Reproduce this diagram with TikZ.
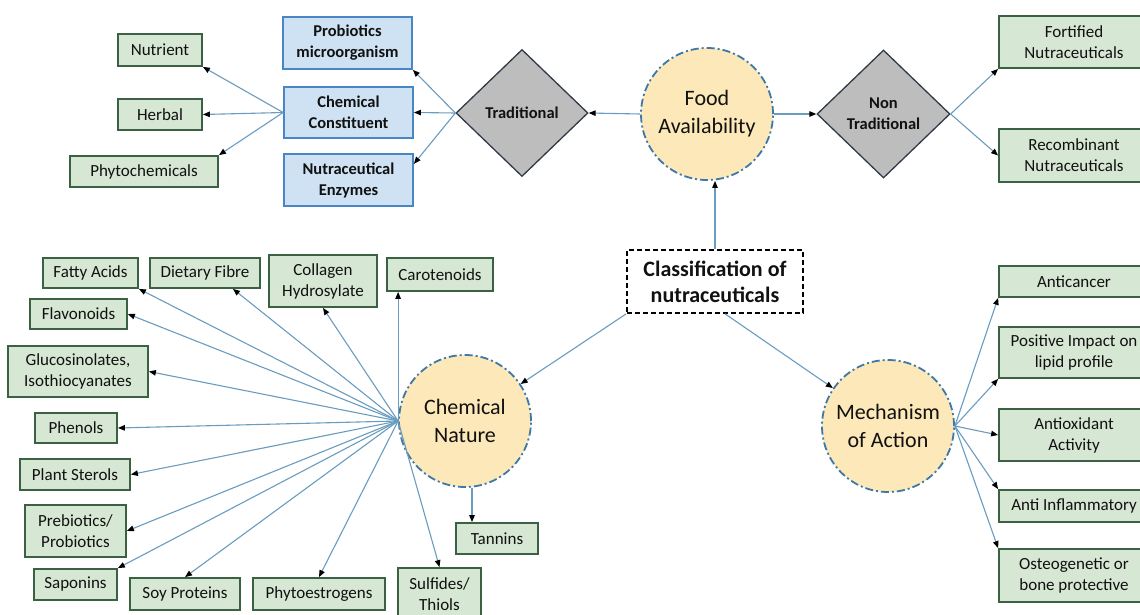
\documentclass[tikz,border=0pt]{standalone}
\usepackage{fontspec}
\setmainfont{Carlito}
\usetikzlibrary{arrows.meta,shapes.geometric,calc}
\definecolor{gfill}{HTML}{D6E7D3}
\definecolor{gdraw}{HTML}{3A6142}
\definecolor{bfill}{HTML}{CFE2F3}
\definecolor{bdraw}{HTML}{4A86C5}
\definecolor{cfill}{HTML}{FCE8B8}
\definecolor{cdraw}{HTML}{3D78A8}
\definecolor{dfill}{HTML}{BDBDBD}
\definecolor{ddraw}{HTML}{2F3B48}
\definecolor{lcol}{HTML}{6A9CC0}
\definecolor{tcol}{HTML}{111111}
\begin{document}
\begin{tikzpicture}[x=1pt,y=-1pt,
 sz/.style 2 args={minimum width=#1pt,minimum height=#2pt},
 gbox/.style={draw=gdraw,fill=gfill,line width=1.8pt,inner sep=0pt,align=center,font=\fontsize{17}{21}\selectfont,text=tcol},
 bbox/.style={draw=bdraw,fill=bfill,line width=1.8pt,inner sep=0pt,align=center,font=\bfseries\fontsize{16.5}{21}\selectfont,text=tcol},
 circ/.style={circle,draw=cdraw,fill=cfill,line width=1.8pt,dash pattern=on 8pt off 3pt on 2pt off 3pt,minimum size=132pt,inner sep=0pt,align=center,font=\fontsize{22}{28}\selectfont,text=tcol},
 dia/.style={diamond,draw=ddraw,fill=dfill,line width=1.3pt,inner sep=0pt,align=center,font=\bfseries\fontsize{16.5}{21}\selectfont,text=tcol},
 clsbox/.style={draw=black,fill=white,line width=1.8pt,dash pattern=on 5pt off 3pt,inner sep=0pt,align=center,font=\bfseries\fontsize{22}{26}\selectfont,text=tcol},
 arr/.style={draw=lcol,line width=1.1pt,-{Triangle[length=7pt,width=5.5pt,color=black]}},
]
\useasboundingbox[fill=white] (0,0) rectangle (1140,615);

% top-left
\node[gbox,sz={84}{32}] (nut) at (160,50) {Nutrient};
\node[gbox,sz={84}{31}] (herb) at (160,114.5) {Herbal};
\node[gbox,sz={148}{31}] (phyto) at (144,171.5) {Phytochemicals};
\node[bbox,sz={129}{52}] (prob) at (347.5,43) {Probiotics\\microorganism};
\node[bbox,sz={129}{51}] (chemc) at (348.5,112.5) {Chemical\\Constituent};
\node[bbox,sz={129}{52}] (enz) at (348.5,180) {Nutraceutical\\Enzymes};
\node[dia,sz={132}{127}] (trad) at (522,113) {Traditional};
\node[circ] (fa) at (707,114) {Food\\Availability};
\node[dia,sz={133}{128}] (ntrad) at (883.5,114) {Non\\Traditional};
\node[gbox,sz={150}{52}] (fort) at (1074,42) {Fortified\\Nutraceuticals};
\node[gbox,sz={150}{53}] (recomb) at (1074,155.5) {Recombinant\\Nutraceuticals};

% centre
\node[clsbox,sz={176}{63}] (cls) at (715,281.5) {Classification of\\nutraceuticals};
\node[circ] (cn) at (465,421) {Chemical\\Nature};
\node[circ] (mech) at (888,426) {Mechanism\\of Action};

% right
\node[gbox,sz={150}{31}] (ac) at (1074,281.5) {Anticancer};
\node[gbox,sz={150}{51}] (pos) at (1074,352.5) {Positive Impact on\\lipid profile};
\node[gbox,sz={150}{52}] (aox) at (1074,435) {Antioxidant\\Activity};
\node[gbox,sz={150}{32}] (ainf) at (1074,506) {Anti Inflammatory};
\node[gbox,sz={150}{53}] (ost) at (1074,575.5) {Osteogenetic or\\bone protective};

% left (chemical nature)
\node[gbox,sz={95}{30}] (fat) at (90.5,273) {Fatty Acids};
\node[gbox,sz={110}{30}] (diet) at (205,273) {Dietary Fibre};
\node[gbox,sz={108}{52}] (coll) at (323,281) {Collagen\\Hydrosylate};
\node[gbox,sz={106}{33}] (car) at (440,274.5) {Carotenoids};
\node[gbox,sz={97}{30}] (flav) at (78.5,314) {Flavonoids};
\node[gbox,sz={140}{51}] (gluc) at (78,371.5) {Glucosinolates,\\Isothiocyanates};
\node[gbox,sz={82}{30}] (phen) at (76,428) {Phenols};
\node[gbox,sz={110}{31}] (ster) at (75,474.5) {Plant Sterols};
\node[gbox,sz={101}{52}] (preb) at (75.5,531) {Prebiotics/\\Probiotics};
\node[gbox,sz={83}{31}] (sap) at (75.5,584.5) {Saponins};
\node[gbox,sz={110}{32}] (soy) at (185,594) {Soy Proteins};
\node[gbox,sz={132}{32}] (phyt) at (319,594) {Phytoestrogens};
\node[gbox,sz={83}{52}] (sulf) at (439.5,594) {Sulfides/\\Thiols};
\node[gbox,sz={82}{31}] (tan) at (497,538.5) {Tannins};

% connectors top
\draw[arr] (chemc.west) -- (nut.south east);
\draw[arr] (chemc.west) -- (herb.east);
\draw[arr] (chemc.west) -- (phyto.north east);
\draw[arr] (trad.west) -- (prob.south east);
\draw[arr] (trad.west) -- (chemc.east);
\draw[arr] (trad.west) -- ($(enz.north east)!0.2!(enz.south east)$);
\draw[arr] (fa.west) -- (trad.east);
\draw[arr] (fa.east) -- (ntrad.west);
\draw[arr] (ntrad.east) -- (fort.south west);
\draw[arr] (ntrad.east) -- (recomb.west);

% centre
\draw[arr] (cls.north) -- (cls.north |- fa.south);
\draw[arr] (cls.south west) -- (cn);
\draw[arr] ($(cls.south west)!0.557!(cls.south east)$) -- (mech);

% mechanism
\draw[arr] (mech.east) -- (ac.south west);
\draw[arr] (mech.east) -- (pos.south west);
\draw[arr] (mech.east) -- (aox.west);
\draw[arr] (mech.east) -- (ainf.north west);
\draw[arr] (mech.east) -- (ost.north west);

% chemical nature fan
\draw[arr] (cn.west) -- (fat.south east);
\draw[arr] (cn.west) -- ($(diet.south west)!0.75!(diet.south east)$);
\draw[arr] (cn.west) -- (coll.south);
\draw[arr] (cn.west) -- (cn.west |- car.south);
\draw[arr] (cn.west) -- (flav.east);
\draw[arr] (cn.west) -- (gluc.east);
\draw[arr] (cn.west) -- (phen.east);
\draw[arr] (cn.west) -- (ster.east);
\draw[arr] (cn.west) -- (preb.east);
\draw[arr] (cn.west) -- (sap.north east);
\draw[arr] (cn.west) -- (soy.north);
\draw[arr] (cn.west) -- (phyt.north);
\draw[arr] (cn.west) -- (sulf.north);
\draw[arr] (cn.-84) -- (cn.-84 |- tan.north);
\end{tikzpicture}
\end{document}
